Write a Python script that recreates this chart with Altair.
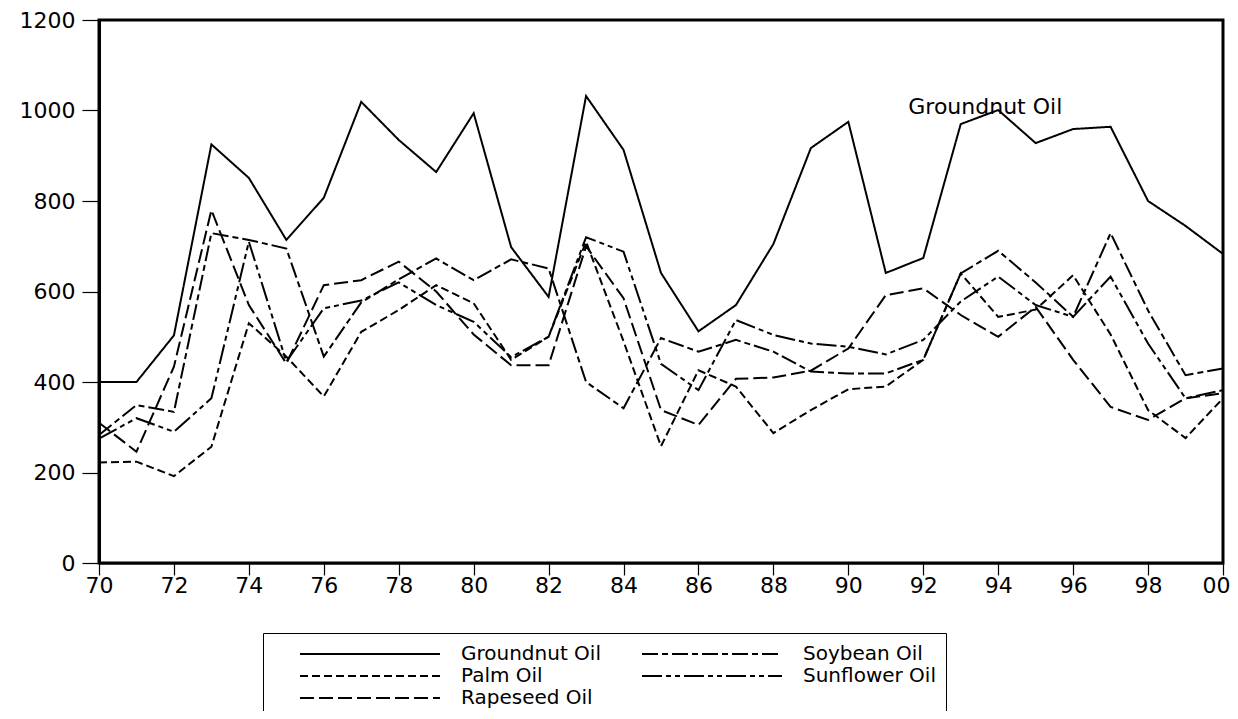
import altair as alt
import pandas as pd

years = list(range(1970, 2001))

groundnut = [400, 400, 503, 925, 851, 714, 807, 1019, 935, 864, 994, 698, 588, 1032, 913,
             641, 512, 570, 705, 917, 975, 641, 674, 970, 1001, 928, 959, 964, 800, 745, 683]
soybean = [283, 349, 334, 729, 714, 695, 456, 576, 627, 673, 625, 671, 651, 400, 342,
           497, 467, 493, 467, 423, 419, 419, 449, 640, 690, 620, 544, 729, 558, 415, 430]
palm = [222, 224, 192, 257, 530, 456, 368, 511, 559, 614, 574, 449, 500, 710, 490,
        258, 426, 390, 287, 338, 384, 390, 449, 640, 544, 560, 636, 505, 338, 276, 364]
sunflower = [275, 320, 290, 364, 710, 445, 563, 580, 620, 570, 533, 455, 500, 720, 688,
             440, 382, 537, 504, 485, 478, 461, 493, 578, 633, 570, 544, 633, 485, 364, 382]
rapeseed = [310, 246, 434, 780, 570, 441, 614, 625, 666, 600, 505, 437, 437, 700, 585,
            338, 305, 407, 410, 425, 474, 592, 607, 548, 500, 566, 449, 345, 316, 364, 375]

series_names = ["Groundnut Oil", "Soybean Oil", "Palm Oil", "Sunflower Oil", "Rapeseed Oil"]
series_values = [groundnut, soybean, palm, sunflower, rapeseed]

# legend fills column by column: first column Groundnut, Palm, Rapeseed; second Soybean, Sunflower
legend_order = ["Groundnut Oil", "Palm Oil", "Rapeseed Oil", "Soybean Oil", "Sunflower Oil"]
dash_patterns = [[1, 0], [8, 4], [14, 5], [16, 4, 6, 4], [20, 4, 5, 4, 5, 4]]

y_ticks = [0, 200, 400, 600, 800, 1000, 1200]
x_ticks = years

annotation_text = ["Groundnut Oil"]
annotation_year = [1991.6]
annotation_value = [1008]

rows = []
for name, vals in zip(series_names, series_values):
    for yr, v in zip(years, vals):
        rows.append({"year": yr, "value": v, "series": name})
df = pd.DataFrame(rows)

ann = pd.DataFrame({"year": annotation_year, "value": annotation_value, "label": annotation_text})

FONT = "DejaVu Sans"
FS = 22
LFS = 20

x_enc = alt.X(
    "year:Q",
    scale=alt.Scale(domain=[1970, 2000], nice=False, zero=False),
    axis=alt.Axis(
        values=x_ticks,
        labelExpr="datum.value % 2 == 0 ? slice(toString(datum.value), 2) : ''",
        tickSize=12, tickColor="black", tickWidth=1.2,
        domainColor="black", domainWidth=2,
        labelFont=FONT, labelFontSize=FS, labelColor="black", labelPadding=0,
        labelOffset={"condition": {"test": "datum.value == 2000", "value": -7}, "value": 0},
        grid=False, title=None, labelFlush=False, labelOverlap=False,
    ),
)
y_enc = alt.Y(
    "value:Q",
    scale=alt.Scale(domain=[0, 1200], nice=False),
    axis=alt.Axis(
        values=y_ticks, format="d",
        tickSize=17, tickColor="black", tickWidth=1.2,
        domainColor="black", domainWidth=3,
        labelFont=FONT, labelFontSize=FS, labelColor="black", labelPadding=7,
        grid=False, title=None,
    ),
)

lines = alt.Chart(df).mark_line(color="black", strokeWidth=2).encode(
    x=x_enc,
    y=y_enc,
    strokeDash=alt.StrokeDash(
        "series:N",
        scale=alt.Scale(domain=legend_order, range=dash_patterns),
        legend=alt.Legend(
            title=None, orient="none", legendX=164, legendY=613,
            columns=2, symbolType="M-7,0H7", symbolSize=400,
            symbolStrokeWidth=2, symbolStrokeColor="black",
            symbolFillColor="transparent",
            symbolOffset=86, labelOffset=80,
            labelFont=FONT, labelFontSize=LFS, labelColor="black",
            columnPadding=14, rowPadding=1,
            strokeColor="black", padding=10, fillColor="white",
            labelLimit=400,
        ),
    ),
)

text = alt.Chart(ann).mark_text(
    align="left", baseline="middle", font=FONT, fontSize=FS, color="black"
).encode(x="year:Q", y="value:Q", text="label:N")

chart = (lines + text).properties(
    width=1124, height=543,
    padding={"left": 91, "top": 12, "right": 7, "bottom": 148},
    autosize=alt.AutoSizeParams(type="none"),
).configure_view(stroke="black", strokeWidth=3)

chart.save("out.html", embed_options={"renderer": "svg", "actions": False})
